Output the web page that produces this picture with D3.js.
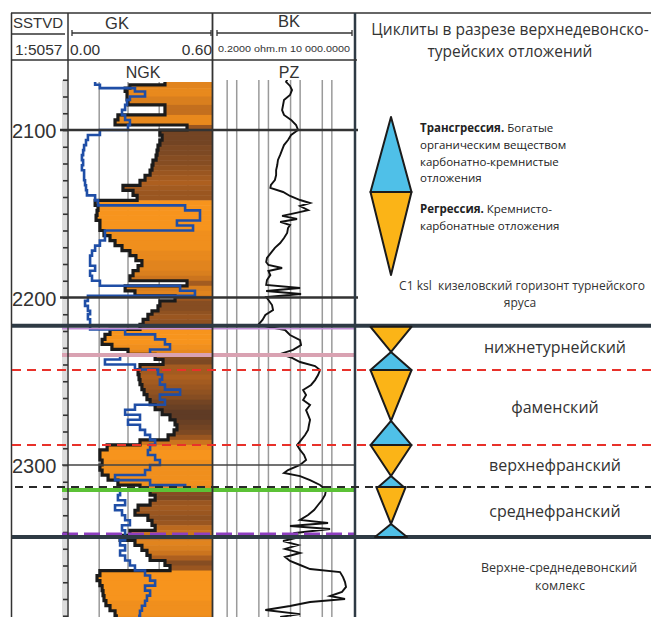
<!DOCTYPE html>
<html>
<head>
<meta charset="utf-8">
<script src="https://cdn.jsdelivr.net/npm/d3@7"></script>
<style>
  body { margin: 0; background: #fff; }
  svg { display: block; }
</style>
</head>
<body>
<div id="chart"></div>
<script>
const depthGK = [
  2071, 2073, 2075, 2077, 2080,
  2082, 2085, 2088, 2091, 2094, 2097, 2100, 2103, 2106, 2109,
  2112, 2115, 2118, 2121, 2124, 2127, 2130, 2133, 2136, 2139,
  2142, 2145, 2148, 2151, 2154, 2157, 2160, 2163, 2166, 2169,
  2172, 2175, 2178, 2181, 2184, 2187, 2190, 2193, 2196, 2199,
  2202, 2205, 2208, 2210, 2213, 2216, 2219, 2222, 2225, 2228,
  2231, 2234, 2237, 2240, 2243, 2246, 2249, 2252, 2255, 2258,
  2261, 2264, 2267, 2270, 2273, 2276, 2279, 2282, 2285, 2288,
  2291, 2294, 2297, 2300, 2303, 2306, 2309, 2312, 2315, 2318,
  2321, 2324, 2327, 2330, 2333, 2336, 2339, 2342, 2345, 2348,
  2351, 2354, 2357, 2360, 2363, 2366, 2369, 2372, 2375, 2378,
  2381, 2384, 2387, 2390
];
const gkValues = [
  0.404, 0.258, 0.238, 0.246, 0.246,
  0.25, 0.404, 0.404, 0.208, 0.196, 0.496, 0.383, 0.392, 0.383, 0.375,
  0.371, 0.367, 0.354, 0.35, 0.342, 0.321, 0.30, 0.229, 0.271, 0.288,
  0.113, 0.125, 0.121, 0.117, 0.133, 0.133, 0.15, 0.175, 0.196, 0.225,
  0.258, 0.283, 0.308, 0.292, 0.271, 0.258, 0.496, 0.238, 0.279, 0.446,
  0.383, 0.375, 0.35, 0.333, 0.313, 0.30, 0.175, 0.154, 0.142, 0.183,
  0.25, 0.363, 0.396, 0.30, 0.292, 0.296, 0.30, 0.308, 0.317, 0.329,
  0.342, 0.363, 0.392, 0.425, 0.446, 0.454, 0.442, 0.417, 0.30, 0.163,
  0.133, 0.133, 0.142, 0.133, 0.142, 0.167, 0.208, 0.30, 0.342, 0.363,
  0.342, 0.292, 0.279, 0.333, 0.35, 0.363, 0.258, 0.217, 0.279, 0.308,
  0.329, 0.342, 0.404, 0.425, 0.133, 0.121, 0.133, 0.142, 0.146, 0.15,
  0.158, 0.175, 0.196, 0.208
];
const ngkValues = [
  0.113, 0.133, 0.279, 0.321, 0.258,
  0.246, 0.238, 0.225, 0.238, 0.258, 0.25, 0.133, 0.083, 0.075, 0.067,
  0.063, 0.058, 0.063, 0.058, 0.067, 0.067, 0.071, 0.075, 0.079, 0.113,
  0.125, 0.488, 0.55, 0.55, 0.454, 0.521, 0.154, 0.154, 0.133, 0.113,
  0.1, 0.092, 0.092, 0.113, 0.092, 0.1, 0.133, 0.467, 0.529, 0.083,
  0.071, 0.083, 0.092, 0.083, 0.092, 0.092, 0.238, 0.363, 0.404, 0.425,
  0.342, 0.217, 0.154, 0.279, 0.375, 0.392, 0.383, 0.404, 0.467, 0.383,
  0.404, 0.279, 0.238, 0.30, 0.25, 0.30, 0.321, 0.342, 0.363, 0.342,
  0.333, 0.363, 0.383, 0.342, 0.321, 0.196, 0.342, 0.488, 0.217, 0.208,
  0.238, 0.196, 0.225, 0.238, 0.258, 0.225, 0.238, 0.238, 0.217, 0.238,
  0.217, 0.238, 0.258, 0.279, 0.321, 0.342, 0.363, 0.321, 0.342, 0.329,
  0.321, 0.308, 0.30, 0.292
];
// shading of the GK fill: 0 = orange, 1 = dark brown
const fillTone = [
  0.15, 0.15, 0.1, 0.1, 0.2,
  0.2, 0.35, 0.35, 0.1, 0.1, 0.6, 0.8, 0.8, 0.8, 0.75,
  0.75, 0.7, 0.7, 0.65, 0.6, 0.55, 0.5, 0.55, 0.6, 0.6,
  0, 0, 0, 0, 0, 0, 0.05, 0.05, 0.05, 0.05,
  0.1, 0.1, 0.15, 0.15, 0.2, 0.3, 0.55, 0.2, 0.15, 0.6,
  0.7, 0.7, 0.65, 0.6, 0.65, 0.7, 0, 0, 0, 0.05,
  0.1, 0.7, 0.75, 0.55, 0.55, 0.5, 0.55, 0.6, 0.65, 0.7,
  0.8, 0.85, 0.9, 0.9, 0.85, 0.8, 0.75, 0.6, 0.3, 0.05,
  0, 0, 0.05, 0.05, 0.05, 0.05, 0.05, 0.1, 0.7, 0.75,
  0.6, 0.55, 0.6, 0.65, 0.6, 0.4, 0.3, 0.3, 0.15, 0.2,
  0.3, 0.5, 0.7, 0.6, 0, 0, 0, 0, 0, 0,
  0.05, 0.05, 0.05, 0.1
];
const depthPZ = [
  2069.0, 2071.3, 2073.7, 2076.1, 2079.1, 2082.1, 2085.1, 2088.1, 2091.0, 2094.0,
  2097.0, 2100.0, 2103.0, 2106.0, 2109.0, 2111.9, 2114.9, 2117.9, 2120.9, 2123.9,
  2126.9, 2129.9, 2132.8, 2134.6, 2137.0, 2139.4, 2141.8, 2143.6, 2145.4, 2147.8,
  2149.6, 2151.3, 2153.1, 2154.9, 2156.7, 2158.5, 2161.5, 2164.5, 2167.5, 2170.4,
  2173.4, 2176.4, 2178.8, 2180.6, 2182.4, 2184.2, 2186.6, 2189.6, 2192.5, 2194.3,
  2196.1, 2197.9, 2199.7, 2201.5, 2204.5, 2207.5, 2210.4, 2213.4, 2216.4, 2219.4,
  2222.4, 2225.4, 2228.4, 2231.3, 2233.7, 2236.1, 2238.5, 2240.9, 2243.3, 2246.3,
  2249.3, 2252.2, 2255.2, 2258.2, 2261.2, 2264.2, 2267.2, 2270.1, 2273.1, 2276.1,
  2279.1, 2282.1, 2285.1, 2288.1, 2291.0, 2294.0, 2297.0, 2300.0, 2303.0, 2304.8,
  2306.6, 2309.0, 2311.9, 2314.9, 2317.9, 2320.9, 2323.9, 2326.9, 2329.9, 2332.8,
  2334.6, 2336.4, 2338.2, 2340.6, 2343.0, 2345.4, 2347.8, 2350.1, 2352.5, 2354.9,
  2357.3, 2359.7, 2362.1, 2363.9, 2366.9, 2369.9, 2372.8, 2375.8, 2378.2, 2380.0,
  2381.8, 2384.2, 2386.6, 2389.0, 2390.7
];
const pzValues = [
  83, 72, 96, 111, 96, 62, 58, 54, 62, 104,
  149, 172, 104, 83, 62, 54, 47, 40, 38, 35,
  35, 32, 24, 23, 58, 96, 199, 411, 199, 356,
  139, 54, 160, 47, 96, 83, 78, 62, 47, 32,
  24, 18, 17, 20, 54, 20, 23, 18, 17, 199,
  17, 214, 17, 20, 26, 28, 16, 13, 9.5, 67,
  96, 199, 214, 120, 47, 111, 199, 591, 849, 735,
  591, 442, 248, 308, 248, 411, 308, 356, 411, 380,
  356, 286, 214, 160, 199, 266, 308, 199, 83, 62,
  199, 411, 849, 1313, 1222, 982, 735, 550, 356, 199,
  1518, 96, 1754, 139, 199, 58, 172, 67, 199, 67,
  96, 199, 411, 3622, 4506, 5208, 5600, 4188, 1754, 5208,
  411, 96, 16, 199, 47
];

const depthLabels = [2100, 2200, 2300];
const gkGrid = [0.13, 0.25, 0.38, 0.5];
const pzGrid = [1, 2, 10, 20, 100, 200, 1000, 2000];

// cycles: T = transgression (blue), R = regression (orange)
const cycleTop  = [2217.5, 2232.5, 2243.3, 2273.7, 2288.1, 2306.6, 2313.1, 2335.2];
const cycleBase = [2232.5, 2243.3, 2273.7, 2288.1, 2306.6, 2313.1, 2335.2, 2343.0];
const cycleType = ['R', 'T', 'R', 'T', 'R', 'T', 'R', 'T'];
const cycleAmp  = [1, 1, 1, 1, 1, 0.62, 0.72, 0.78];

const stageNames = ['нижнетурнейский', 'фаменский', 'верхнефранский', 'среднефранский'];
const stageTop   = [2216.8, 2243.3, 2288.1, 2313.1];
const stageBase  = [2243.3, 2288.1, 2313.1, 2343.0];

const thickDepths = [2216.8, 2343.0];
const redDashDepths = [2243.3, 2288.1];
const blackDashDepths = [2313.1];

// ---- layout ----
const W = 651, H = 617;
const trackTop = 80, trackBottom = 617;
const gkLeft = 68, gkRight = 212;
const bkLeft = 213, bkRight = 354;
const panelLeft = 355;

const svg = d3.select('#chart').append('svg')
  .attr('width', W).attr('height', H);

const y = d3.scaleLinear().domain([2100, 2300]).range([130, 465]);
const xGK = d3.scaleLinear().domain([0, 0.6]).range([gkLeft, gkRight]);
const xPZ = d3.scaleLog().domain([0.2, 10000]).range([205, bkRight]);
const tone = d3.scaleLinear().domain([0, 0.5, 1])
  .range(['#f7941d', '#ad5f1f', '#4c3226']);

const defs = svg.append('defs');
defs.append('clipPath').attr('id', 'clipGK').append('rect')
  .attr('x', gkLeft).attr('y', trackTop + 2).attr('width', gkRight - gkLeft).attr('height', trackBottom - trackTop);
defs.append('clipPath').attr('id', 'clipBK').append('rect')
  .attr('x', bkLeft).attr('y', trackTop).attr('width', bkRight - bkLeft).attr('height', trackBottom - trackTop);

const sansHdr = "'Liberation Sans', Arial, sans-serif";
const sansPanel = "'Open Sans', 'Noto Sans', sans-serif";

function hline(g, yy, x1, x2, stroke, w, dash) {
  const l = g.append('line').attr('x1', x1).attr('x2', x2).attr('y1', yy).attr('y2', yy)
    .attr('stroke', stroke).attr('stroke-width', w);
  if (dash) l.attr('stroke-dasharray', dash);
  return l;
}
function vline(g, xx, y1, y2, stroke, w) {
  return g.append('line').attr('x1', xx).attr('x2', xx).attr('y1', y1).attr('y2', y2)
    .attr('stroke', stroke).attr('stroke-width', w);
}

// ---- depth column ----
const depthG = svg.append('g');
depthG.append('rect').attr('x', 62).attr('y', trackTop).attr('width', 5)
  .attr('height', trackBottom - trackTop).attr('fill', '#dcdcdc');
const axis = d3.axisLeft(y).tickValues(d3.range(2070, 2400, 10)).tickSize(5).tickFormat('');
const axG = depthG.append('g').attr('transform', `translate(${gkLeft},0)`).call(axis);
axG.select('.domain').remove();
axG.selectAll('line').attr('stroke', '#333').attr('stroke-width', 1.6);
depthG.selectAll('text.dl').data(depthLabels).join('text')
  .attr('class', 'dl')
  .attr('x', 12).attr('y', d => y(d) + 8)
  .attr('font-family', sansHdr).attr('font-size', 20).attr('fill', '#333')
  .text(d => d);

// ---- GK track ----
const gk = svg.append('g').attr('clip-path', 'url(#clipGK)');
gkGrid.forEach(v => vline(gk, xGK(v), trackTop, trackBottom, '#9a9a9a', 1.5));

const gkData = depthGK.map((d, i) => ({ d, gk: gkValues[i], ngk: ngkValues[i], tone: fillTone[i] }));
gk.selectAll('rect.fill').data(gkData).join('rect')
  .attr('class', 'fill')
  .attr('x', p => xGK(p.gk))
  .attr('y', p => y(p.d))
  .attr('width', p => gkRight - xGK(p.gk))
  .attr('height', (p, i) => (i < gkData.length - 1 ? y(gkData[i + 1].d) : trackBottom) - y(p.d) + 0.5)
  .attr('fill', p => tone(p.tone));

const gkLine = d3.line().x(p => xGK(p.gk)).y(p => y(p.d)).curve(d3.curveStepBefore);
gk.append('path').datum(gkData).attr('d', gkLine)
  .attr('fill', 'none').attr('stroke', '#1b1b1b').attr('stroke-width', 3.2);

const ngkLine = d3.line().x(p => xGK(p.ngk)).y(p => y(p.d)).curve(d3.curveStepBefore);
gk.append('path').datum(gkData).attr('d', ngkLine)
  .attr('fill', 'none').attr('stroke', '#1f4ea6').attr('stroke-width', 2.6);

// ---- BK track ----
const bk = svg.append('g').attr('clip-path', 'url(#clipBK)');
pzGrid.forEach(v => vline(bk, xPZ(v), trackTop, trackBottom, '#9a9a9a', 1.5));
const pzData = depthPZ.map((d, i) => ({ d, r: pzValues[i] }));
bk.append('path').datum(pzData)
  .attr('d', d3.line().x(p => xPZ(p.r)).y(p => y(p.d)))
  .attr('fill', 'none').attr('stroke', '#111').attr('stroke-width', 1.9);

// ---- depth lines ----
const lines = svg.append('g');
hline(lines, y(2100), 60, 358, '#333', 2.5);
hline(lines, y(2200), 60, 358, '#333', 2.5);
hline(lines, y(2300), 62, 355, '#444', 1.5);
// horizon markers inside the log tracks
hline(lines, y(2218.6), 62, 355, '#c590d8', 1.5);
hline(lines, y(2234.3), 62, 355, '#d9a2b2', 4);
hline(lines, y(2314.9), 62, 355, '#5cc236', 4);
hline(lines, y(2341.2), 62, 355, '#8e3fc0', 3, '16,6');

// ---- frame ----
const frame = svg.append('g');
hline(frame, 13, 11, W, '#333', 1.5);
vline(frame, 11.5, 13, H, '#333', 1.5);
vline(frame, gkLeft, 13, H, '#333', 1.5);
vline(frame, gkRight + 0.5, 13, H, '#333', 1.8);
vline(frame, panelLeft, 13, H, '#2e3a44', 2.5);
hline(frame, 34, 11, 65, '#333', 1.5);
hline(frame, 60, 11, 357, '#333', 1.5);

// ---- header ----
const hdr = svg.append('g').attr('font-family', sansHdr).attr('fill', '#333');
hdr.append('text').attr('x', 13).attr('y', 28).attr('font-size', 15).text('SSTVD');
hdr.append('text').attr('x', 15).attr('y', 55).attr('font-size', 15.5).text('1:5057');
hdr.append('text').attr('x', 117).attr('y', 29).attr('text-anchor', 'middle').attr('font-size', 16.5).text('GK');
hdr.append('text').attr('x', 70).attr('y', 55).attr('font-size', 15.5).text('0.00');
hdr.append('text').attr('x', 212).attr('y', 55).attr('text-anchor', 'end').attr('font-size', 15.5).text('0.60');
hdr.append('text').attr('x', 289).attr('y', 27).attr('text-anchor', 'middle').attr('font-size', 16.5).text('BK');
hdr.append('text').attr('x', 218).attr('y', 52).attr('font-size', 8.5)
  .attr('textLength', 132).attr('lengthAdjust', 'spacingAndGlyphs').text('0.2000 ohm.m 10 000.0000');
hdr.append('text').attr('x', 143).attr('y', 78).attr('text-anchor', 'middle').attr('font-size', 16).text('NGK');
hdr.append('text').attr('x', 289).attr('y', 78).attr('text-anchor', 'middle').attr('font-size', 16).text('PZ');
[[72, 211], [217, 352]].forEach(([a, b]) => {
  hline(hdr, 33, a, b, '#333', 1.3);
  vline(hdr, a, 30, 36, '#333', 1.3);
  vline(hdr, b, 30, 36, '#333', 1.3);
});

// ---- cross-section boundaries ----
const bounds = svg.append('g');
redDashDepths.forEach(d => hline(bounds, y(d), 12, W, '#e8312a', 2, '9,6'));
blackDashDepths.forEach(d => hline(bounds, y(d), 15, W, '#2a2a2a', 2, '8,6'));
thickDepths.forEach(d => hline(bounds, y(d), 12, W, '#2e3a44', 4));

// ---- right panel ----
const panel = svg.append('g').attr('font-family', sansPanel).attr('fill', '#333');
const cx = 391;
const halfW = d3.scaleLinear().domain([0, 1]).range([0, 20.5]);
const blue = '#4fc0e8', orange = '#fbb417';

panel.append('text').attr('x', 510).attr('y', 34.5).attr('text-anchor', 'middle').attr('font-size', 15.5)
  .text('Циклиты в разрезе верхнедевонско-');
panel.append('text').attr('x', 510).attr('y', 56.5).attr('text-anchor', 'middle').attr('font-size', 15.5)
  .text('турейских отложений');

// legend triangles
panel.append('path').attr('d', `M${cx},117 L${cx + halfW(1)},192 L${cx - halfW(1)},192 Z`)
  .attr('fill', blue).attr('stroke', '#1b1b1b').attr('stroke-width', 2).attr('stroke-linejoin', 'round');
panel.append('path').attr('d', `M${cx - halfW(1)},192 L${cx + halfW(1)},192 L${cx},275 Z`)
  .attr('fill', orange).attr('stroke', '#1b1b1b').attr('stroke-width', 2).attr('stroke-linejoin', 'round');

const leg = panel.append('g').attr('font-size', 11.5).attr('fill', '#222');
const l1 = leg.append('text').attr('x', 420).attr('y', 132);
l1.append('tspan').attr('font-weight', 'bold').text('Трансгрессия.');
l1.append('tspan').text(' Богатые');
leg.append('text').attr('x', 420).attr('y', 149).text('органическим веществом');
leg.append('text').attr('x', 420).attr('y', 166).text('карбонатно-кремнистые');
leg.append('text').attr('x', 420).attr('y', 182).text('отложения');
const l2 = leg.append('text').attr('x', 420).attr('y', 213);
l2.append('tspan').attr('font-weight', 'bold').text('Регрессия.');
l2.append('tspan').text(' Кремнисто-');
leg.append('text').attr('x', 420).attr('y', 230).text('карбонатные отложения');

panel.append('text').attr('x', 522).attr('y', 290).attr('text-anchor', 'middle').attr('font-size', 12)
  .style('white-space', 'pre').text('C1 ksl  кизеловский горизонт турнейского');
panel.append('text').attr('x', 520).attr('y', 307).attr('text-anchor', 'middle').attr('font-size', 12)
  .text('яруса');

// cycle triangles
const cycles = cycleTop.map((t, i) => ({ t, b: cycleBase[i], type: cycleType[i], w: halfW(cycleAmp[i]) }));
panel.selectAll('path.cyc').data(cycles).join('path')
  .attr('class', 'cyc')
  .attr('d', c => c.type === 'R'
    ? `M${cx - c.w},${y(c.t)} L${cx + c.w},${y(c.t)} L${cx},${y(c.b)} Z`
    : `M${cx},${y(c.t)} L${cx + c.w},${y(c.b)} L${cx - c.w},${y(c.b)} Z`)
  .attr('fill', c => c.type === 'R' ? orange : blue)
  .attr('stroke', '#1b1b1b').attr('stroke-width', 2).attr('stroke-linejoin', 'round');

// stage names
panel.selectAll('text.stage').data(stageNames).join('text')
  .attr('class', 'stage')
  .attr('x', 555)
  .attr('y', (s, i) => (y(stageTop[i]) + y(stageBase[i])) / 2 + 5)
  .attr('text-anchor', 'middle').attr('font-size', 16)
  .text(s => s);

panel.append('text').attr('x', 559).attr('y', y(2343) + 35).attr('text-anchor', 'middle').attr('font-size', 12.5)
  .text('Верхне-среднедевонский');
panel.append('text').attr('x', 560).attr('y', y(2343) + 53).attr('text-anchor', 'middle').attr('font-size', 12.5)
  .text('комлекс');
</script>
</body>
</html>
